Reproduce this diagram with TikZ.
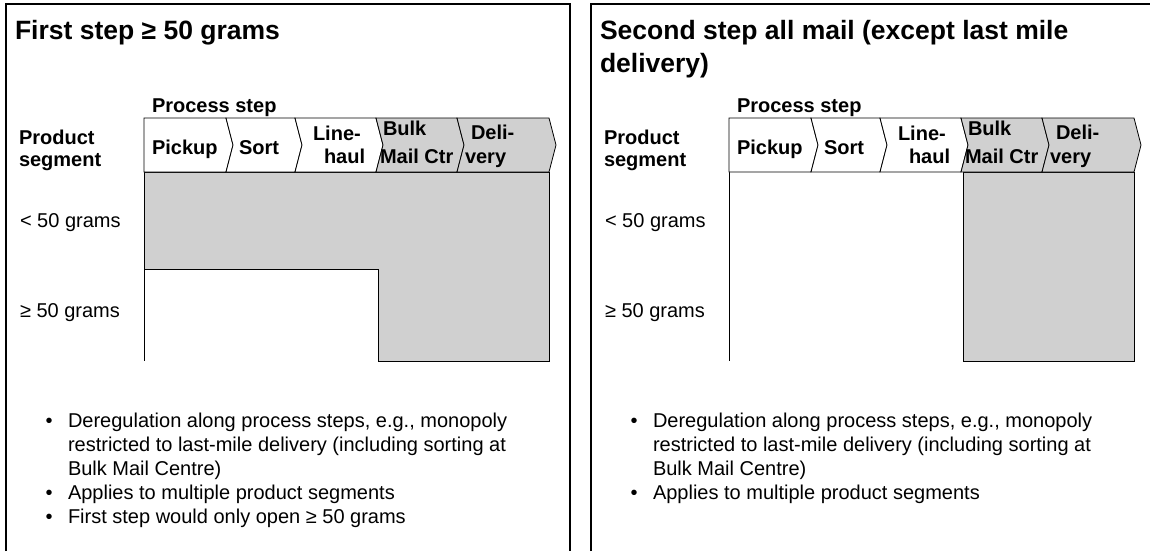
\documentclass[tikz,border=0pt]{standalone}
\usepackage{fontspec}
\setmainfont{Liberation Sans}
\definecolor{cgrey}{RGB}{208,208,208}
\newcommand\commonparts[1]{%
  % labels
  \node[lbl] (#1proc) at (152,112) {Process step};
  \node[lbl] (#1prod) at (19,144) {Product};
  \node[lbl] (#1seg) at (19,166) {segment};
  \node[txt] (#1lt) at (20,227) {< 50 grams};
  \node[txt] (#1ge) at (20,317) {≥ 50 grams};
  % chevrons
  \draw[chev, fill=white] (144,118) -- (226,118) -- (233,145) -- (226,172) -- (144,172) -- cycle;
  \draw[chev, fill=white] (226,118) -- (295,118) -- (302,145) -- (295,172) -- (226,172) -- (233,145) -- cycle;
  \draw[chev, fill=white] (295,118) -- (376,118) -- (383,145) -- (376,172) -- (295,172) -- (302,145) -- cycle;
  \draw[chev, fill=cgrey] (376,118) -- (457,118) -- (464,145) -- (457,172) -- (376,172) -- (383,145) -- cycle;
  \draw[chev, fill=cgrey] (457,118) -- (549,118) -- (556,145) -- (549,172) -- (457,172) -- (464,145) -- cycle;
  \node[lbl] (#1c1) at (152,154) {Pickup};
  \node[lbl] (#1c2) at (239,154) {Sort};
  \node[lbl] (#1c3a) at (313,140) {Line-};
  \node[lbl] (#1c3b) at (324,163) {haul};
  \node[lbl] (#1c4a) at (383,135) {Bulk};
  \node[lbl] (#1c4b) at (380,163) {Mail Ctr};
  \node[lbl] (#1c5a) at (471,139) {Deli-};
  \node[lbl] (#1c5b) at (465,163) {very};
  % bullets
  \node[txt, anchor=base] (#1b1) at (49,427) {•};
  \node[txt] (#1t1) at (68,427) {Deregulation along process steps, e.g., monopoly};
  \node[txt] (#1t2) at (68,451) {restricted to last-mile delivery (including sorting at};
  \node[txt] (#1t3) at (68,475) {Bulk Mail Centre)};
  \node[txt, anchor=base] (#1b2) at (49,499) {•};
  \node[txt] (#1t4) at (68,499) {Applies to multiple product segments};
}
\begin{document}
\begin{tikzpicture}[x=1pt,y=-1pt,
  every node/.style={inner sep=0pt, outer sep=0pt, anchor=base west},
  ttl/.style={font=\fontsize{26.5}{31}\selectfont\bfseries},
  lbl/.style={font=\fontsize{20}{24}\selectfont\bfseries},
  txt/.style={font=\fontsize{20}{24}\selectfont},
  chev/.style={draw=black, line width=0.8pt, line join=miter},
  panelframe/.style={draw=black, line width=1.3pt}]
\useasboundingbox[fill=white] (0,0) rectangle (1150,551);

% ---------- left panel ----------
\draw[panelframe] (6,551) -- (6,4) -- (570,4) -- (570,551);
\node[ttl] (ltitle) at (15,40) {First step ≥ 50 grams};
\draw[chev, fill=cgrey] (144,172) -- (549,172) -- (549,361) -- (378,361) -- (378,269) -- (144,269) -- cycle;
\draw[chev] (144,269) -- (144,361);
\commonparts{L}
\node[txt, anchor=base] (Lb3) at (49,523) {•};
\node[txt] (Lt5) at (68,523) {First step would only open ≥ 50 grams};

% ---------- right panel ----------
\begin{scope}[xshift=585pt]
\draw[panelframe] (6,551) -- (6,4) -- (565,4);
\node[ttl] (rtitle1) at (15,40) {Second step all mail (except last mile};
\node[ttl] (rtitle2) at (15,72) {delivery)};
\draw[chev, fill=cgrey] (378,172) rectangle (549,361);
\draw[chev] (144,172) -- (144,361);
\commonparts{R}
\end{scope}
\end{tikzpicture}
\end{document}
